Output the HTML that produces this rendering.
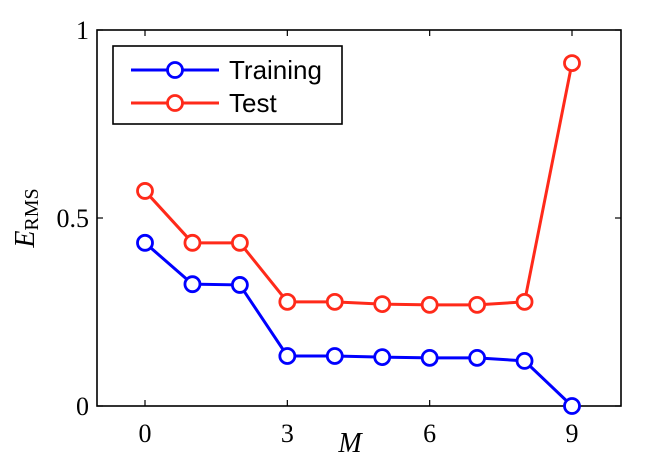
<!DOCTYPE html>
<html><head><meta charset="utf-8"><style>
html,body{margin:0;padding:0;background:#fff;width:650px;height:469px;overflow:hidden}
svg{display:block}
</style></head><body>
<svg id="chart" width="650" height="469">
<rect x="0" y="0" width="650" height="469" fill="#fff"/>
<g id="plot"></g>
</svg>
<script>
const categories=[0,1,2,3,4,5,6,7,8,9];
const trainingValues=[0.434,0.324,0.322,0.133,0.133,0.130,0.128,0.128,0.120,0.0];
const testValues=[0.572,0.434,0.434,0.277,0.277,0.271,0.269,0.269,0.277,0.912];
const xTicks=[0,3,6,9];
const yTicks=[0,0.5,1];
const yTickLabels=["0","0.5","1"];

const L=97,R=621,T=30,B=406;
const xs=v=>145+(v-0)*(572-145)/9;
const ys=v=>B-v*(B-T);
const NS='http://www.w3.org/2000/svg';
const g=document.getElementById('plot');
function mk(tag,attrs,parent){const e=document.createElementNS(NS,tag);for(const k in attrs)e.setAttribute(k,attrs[k]);(parent||g).appendChild(e);return e;}

const frame=mk('rect',{x:L,y:T,width:R-L,height:B-T,fill:'none',stroke:'#000','stroke-width':1.6});



xTicks.forEach(t=>{
  const x=xs(t);
  const a=mk('line',{x1:x,y1:B,x2:x,y2:B-6,stroke:'#000','stroke-width':1.2});
  
  
  const b=mk('line',{x1:x,y1:T,x2:x,y2:T+6,stroke:'#000','stroke-width':1.2});
  
  
  const tx=mk('text',{x:x,y:442,'text-anchor':'middle','font-family':'Liberation Serif, serif','font-size':26});
  tx.textContent=String(t);
  
  
});
yTicks.forEach((t,i)=>{
  const y=ys(t);
  const a=mk('line',{x1:L,y1:y,x2:L+6,y2:y,stroke:'#000','stroke-width':1.2});
  
  
  const b=mk('line',{x1:R,y1:y,x2:R-6,y2:y,stroke:'#000','stroke-width':1.2});
  
  
  const tx=mk('text',{x:L-8,y:y+9,'text-anchor':'end','font-family':'Liberation Serif, serif','font-size':26});
  tx.textContent=yTickLabels[i];
  
  
});

function series(vals,color,name){
  const pts=vals.map((v,i)=>xs(categories[i])+','+ys(v)).join(' ');
  const pl=mk('polyline',{points:pts,fill:'none',stroke:color,'stroke-width':3});
  
  
  vals.forEach((v,i)=>{
    const c=mk('circle',{cx:xs(categories[i]),cy:ys(v),r:7.5,fill:'#fff',stroke:color,'stroke-width':2.8});
    
    
  });
}
series(trainingValues,'#0000ff','training');
series(testValues,'#ff2a1a','test');

const lg=mk('g',{});


mk('rect',{x:113,y:46,width:229,height:78,fill:'#fff',stroke:'#000','stroke-width':1.6},lg);
[['Training','#0000ff',70],['Test','#ff2a1a',103]].forEach(([lab,col,y])=>{
  const e=mk('g',{},lg);
  
  
  mk('line',{x1:131,y1:y,x2:219,y2:y,stroke:col,'stroke-width':3},e);
  mk('circle',{cx:175,cy:y,r:7.5,fill:'#fff',stroke:col,'stroke-width':2.8},e);
  const t=mk('text',{x:229,y:y+9,'font-family':'Liberation Sans, sans-serif','font-size':26},e);
  t.textContent=lab;
});

const xt=mk('text',{x:350,y:452,'text-anchor':'middle','font-family':'Liberation Serif, serif','font-size':28,'font-style':'italic'});
xt.textContent='M';


const yt=mk('text',{transform:'translate(34,218) rotate(-90)','text-anchor':'middle','font-family':'Liberation Serif, serif','font-size':28});


const e1=mk('tspan',{'font-style':'italic'},yt);e1.textContent='E';
const e2=mk('tspan',{'font-size':20,dy:4},yt);e2.textContent='RMS';
</script>
</body></html>
